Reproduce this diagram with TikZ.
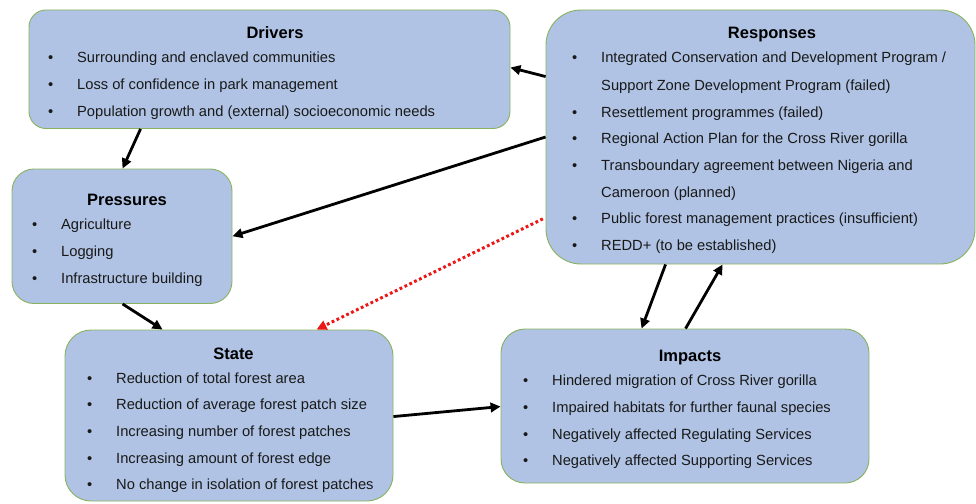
\documentclass[tikz,border=0pt]{standalone}
\usepackage{fontspec}
\setmainfont{Liberation Sans}
\usetikzlibrary{arrows.meta,calc}

\definecolor{boxfill}{RGB}{176,195,228}
\definecolor{boxline}{RGB}{135,178,95}
\definecolor{dotred}{RGB}{236,22,22}

% bullet followed by the fixed indent of the list text
\newcommand\itemdot{\makebox[29pt][l]{\textbullet}}

\tikzset{
  panel/.style={draw=boxline, line width=0.9pt, fill=boxfill, inner sep=0pt, rectangle},
  heading/.style={font=\fontsize{16.5}{18}\selectfont\bfseries, inner sep=0pt, anchor=base},
  entry/.style={font=\fontsize{14.7}{17}\selectfont, text=black!90, inner sep=0pt, anchor=base west},
  flow/.style={line width=2.8pt, -{Triangle[length=10pt,width=9.5pt]}},
  hint/.style={draw=dotred, line width=3pt, dash pattern=on 2.8pt off 2.6pt,
               -{Triangle[length=10pt,width=9.5pt]}, shorten <=3pt}
}

\begin{document}
\begin{tikzpicture}[x=1pt, y=-1pt]
\useasboundingbox (0,0) rectangle (976,503);

% ---------- boxes ----------
\node[panel, minimum width=481pt, minimum height=118.5pt, rounded corners=17pt] (drivers)   at (269.5,69.25) {};
\node[panel, minimum width=429pt, minimum height=254pt,   rounded corners=35pt] (responses) at (760.5,137)   {};
\node[panel, minimum width=220pt, minimum height=134.5pt, rounded corners=22pt] (pressures) at (122,236.25)  {};
\node[panel, minimum width=328pt, minimum height=171pt,   rounded corners=26pt] (state)     at (229,415.5)   {};
\node[panel, minimum width=368pt, minimum height=154pt,   rounded corners=24pt] (impacts)   at (685,406)     {};

% ---------- Drivers ----------
\node[heading] (drv-t) at (275,38.5) {Drivers};
\node[entry] (drv1) at (48,62.5)  {\itemdot Surrounding and enclaved communities};
\node[entry] (drv2) at (48,89.3)  {\itemdot Loss of confidence in park management};
\node[entry] (drv3) at (48,116)   {\itemdot Population growth and (external) socioeconomic needs};

% ---------- Responses ----------
\node[heading] (rsp-t) at (772,39) {Responses};
\node[entry] (rsp1) at (572,63)  {\itemdot Integrated Conservation and Development Program /};
\node[entry] (rsp2) at (601,90)  {Support Zone Development Program (failed)};
\node[entry] (rsp3) at (572,117) {\itemdot Resettlement programmes (failed)};
\node[entry] (rsp4) at (572,143.5) {\itemdot Regional Action Plan for the Cross River gorilla};
\node[entry] (rsp5) at (572,170) {\itemdot Transboundary agreement between Nigeria and};
\node[entry] (rsp6) at (601,197) {Cameroon (planned)};
\node[entry] (rsp7) at (572,223.5) {\itemdot Public forest management practices (insufficient)};
\node[entry] (rsp8) at (572,250) {\itemdot REDD+ (to be established)};

% ---------- Pressures ----------
\node[heading] (prs-t) at (127,205) {Pressures};
\node[entry] (prs1) at (32,229) {\itemdot Agriculture};
\node[entry] (prs2) at (32,256) {\itemdot Logging};
\node[entry] (prs3) at (32,283) {\itemdot Infrastructure building};

% ---------- State ----------
\node[heading] (sta-t) at (233.5,359.5) {State};
\node[entry] (sta1) at (87,383)   {\itemdot Reduction of total forest area};
\node[entry] (sta2) at (87,409.5) {\itemdot Reduction of average forest patch size};
\node[entry] (sta3) at (87,436)   {\itemdot Increasing number of forest patches};
\node[entry] (sta4) at (87,463)   {\itemdot Increasing amount of forest edge};
\node[entry] (sta5) at (87,489)   {\itemdot No change in isolation of forest patches};

% ---------- Impacts ----------
\node[heading] (imp-t) at (690,361) {Impacts};
\node[entry] (imp1) at (523,385) {\itemdot Hindered migration of Cross River gorilla};
\node[entry] (imp2) at (523,412) {\itemdot Impaired habitats for further faunal species};
\node[entry] (imp3) at (523,439) {\itemdot Negatively affected Regulating Services};
\node[entry] (imp4) at (523,465) {\itemdot Negatively affected Supporting Services};

% ---------- connectors ----------
\draw[flow] ($(responses.north west)+(0,67)$) -- ($(drivers.north east)+(0,58)$);
\draw[flow] ($(drivers.south west)+(112,0)$) -- ($(pressures.north west)+(111,0)$);
\draw[flow] (responses.west) -- (pressures.east);
\draw[flow] ($(pressures.south west)+(111,0)$) -- ($(state.north west)+(98,0)$);
\draw[hint] ($(responses.north west)+(0,208)$) -- ($(state.north west)+(252,0)$);
\draw[flow] ($(state.north east)+(0,87)$) -- ($(impacts.north west)+(0,78)$);
\draw[flow] ($(responses.south west)+(120,0)$) -- ($(impacts.north west)+(141,0)$);
\draw[flow] ($(impacts.north west)+(185,0)$) -- ($(responses.south west)+(177,0)$);
\end{tikzpicture}
\end{document}
